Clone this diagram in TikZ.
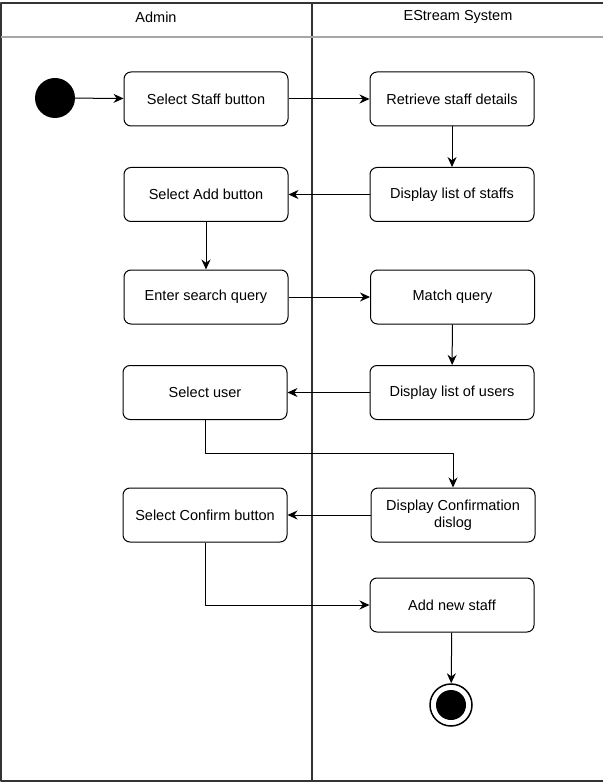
\documentclass[tikz,border=0pt]{standalone}
\usepackage{fontspec}
\setmainfont{Liberation Sans}
\usetikzlibrary{arrows.meta}

\begin{document}
\begin{tikzpicture}[x=1pt, y=-1pt, font=\fontsize{14.5}{17}\selectfont, line join=round, >={Stealth[length=10pt,width=9pt]},
		act/.style={draw, rounded corners=7pt, line width=1pt, minimum width=164pt, minimum height=54pt, align=center, inner sep=2pt},
		flow/.style={->, line width=1pt}]
	\useasboundingbox (0,0) rectangle (603,783);
	% swimlanes
	\draw[line width=1.4pt, black!80] (603,3)--(1,3)--(1,781)--(603,781);
	\draw[line width=1.4pt, black!80] (312,3)--(312,781);
	\draw[line width=1.2pt, black!35] (1,37)--(603,37);
	\node (lane1) at (156,17) {Admin};
	\node (lane2) at (458,17) {EStream System};
	% start and end
	\node (start) [circle, fill=black, minimum size=40pt, inner sep=0pt] at (55,98) {};
	\node (stop) [circle, draw, line width=1.5pt, minimum size=42pt, inner sep=0pt] at (451,705) {};
	\fill (stop.center) circle (15pt);
	% admin actions
	\node (staffbtn) [act] at (206,99) {Select Staff button};
	\node (addbtn) [act] at (206,194.5) {Select Add button};
	\node (query) [act] at (206,297) {Enter search query};
	\node (seluser) [act] at (205,392.5) {Select user};
	\node (confirmbtn) [act] at (205,515) {Select Confirm button};
	% system actions
	\node (retrieve) [act] at (452,99) {Retrieve staff details};
	\node (liststaff) [act] at (452,194.5) {Display list of staffs};
	\node (match) [act] at (452.5,297) {Match query};
	\node (listuser) [act] at (452,392.5) {Display list of users};
	\node (dialog) [act] at (453,515) {Display Confirmation\\dislog};
	\node (addstaff) [act] at (452,605) {Add new staff};
	% transitions
	\draw[flow] (start)--(staffbtn);
	\draw[flow] (staffbtn)--(retrieve);
	\draw[flow] (retrieve)--(liststaff);
	\draw[flow] (liststaff)--(addbtn);
	\draw[flow] (addbtn)--(query);
	\draw[flow] (query)--(match);
	\draw[flow] (match)--(listuser);
	\draw[flow] (listuser)--(seluser);
	\draw[flow] (seluser.south)--++(0,33) -| (dialog.north);
	\draw[flow] (dialog)--(confirmbtn);
	\draw[flow] (confirmbtn.south) |- (addstaff.west);
	\draw[flow] (addstaff)--(stop);
\end{tikzpicture}
\end{document}
